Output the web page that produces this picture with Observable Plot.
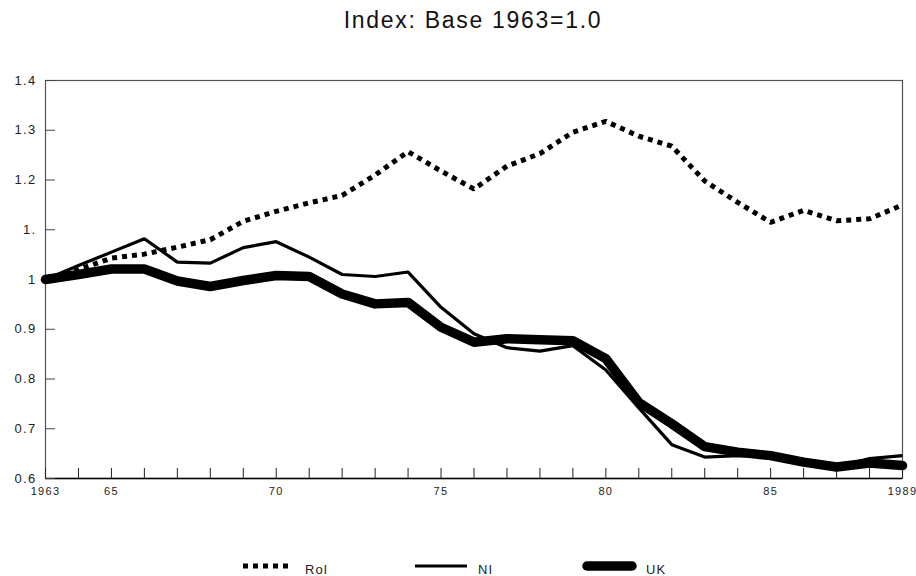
<!DOCTYPE html>
<html>
<head>
<meta charset="utf-8">
<script src="https://cdn.jsdelivr.net/npm/d3@7"></script>
<script src="https://cdn.jsdelivr.net/npm/@observablehq/plot@0.6"></script>
<style>
  html, body { margin: 0; padding: 0; background: #fff; }
  #wrap { position: relative; width: 916px; height: 576px; font-family: "Liberation Sans", Arial, sans-serif; color: #000; }
  #title { position: absolute; left: 0; width: 946px; top: 7px; text-align: center; font-size: 23px; letter-spacing: 1.7px; color: #111; }
  #chart { position: absolute; left: 0; top: 50px; }
  .lg { position: absolute; top: 556px; height: 20px; display: flex; align-items: center; font-size: 13px; letter-spacing: 1px; color: #222; }
  .lg svg { display: block; }
  .lg span { position: relative; top: 3px; }
</style>
</head>
<body>
<div id="wrap">
  <div id="title">Index: Base 1963=1.0</div>
  <div id="chart"></div>
  <div id="legend"></div>
</div>
<script>
const years = [1963,1964,1965,1966,1967,1968,1969,1970,1971,1972,1973,1974,1975,1976,1977,1978,1979,1980,1981,1982,1983,1984,1985,1986,1987,1988,1989];
const roi = [1.000,1.020,1.043,1.051,1.065,1.080,1.117,1.137,1.154,1.169,1.210,1.257,1.218,1.182,1.228,1.253,1.296,1.318,1.288,1.268,1.198,1.155,1.115,1.139,1.118,1.122,1.150];
const ni  = [1.000,1.028,1.055,1.082,1.035,1.033,1.064,1.076,1.045,1.010,1.006,1.015,0.944,0.891,0.863,0.856,0.867,0.818,0.742,0.668,0.643,0.646,0.644,0.633,0.623,0.640,0.646];
const uk  = [1.000,1.010,1.021,1.021,0.997,0.986,0.998,1.008,1.006,0.971,0.951,0.954,0.904,0.874,0.881,0.879,0.877,0.841,0.753,0.710,0.664,0.653,0.646,0.633,0.623,0.631,0.626];
const seriesNames = ["RoI", "NI", "UK"];
const yTicks = [0.6,0.7,0.8,0.9,1.0,1.1,1.2,1.3,1.4];
const yTickLabels = ["0.6","0.7","0.8","0.9","1","1.","1.2","1.3","1.4"];
const xLabelYears = [1963,1965,1970,1975,1980,1985,1989];
const xLabels = ["1963","65","70","75","80","85","1989"];

const styles = {
  RoI: {strokeWidth: 5, strokeDasharray: "5,5", strokeLinecap: "butt", strokeLinejoin: "miter"},
  NI:  {strokeWidth: 3.2, strokeLinecap: "butt", strokeLinejoin: "miter"},
  UK:  {strokeWidth: 9.5, strokeLinecap: "round", strokeLinejoin: "round"}
};
const seriesData = {RoI: roi, NI: ni, UK: uk};
const rows = name => years.map((yr, i) => ({year: yr, value: seriesData[name][i]}));

const chart = Plot.plot({
  width: 916,
  height: 460,
  marginTop: 30,
  marginBottom: 32,
  marginLeft: 45,
  marginRight: 14,
  style: {fontFamily: '"Liberation Sans", Arial, sans-serif', background: "#fff", color: "#000", letterSpacing: "1.3px"},
  x: {domain: [1963, 1989], label: null},
  y: {domain: [0.6, 1.4], label: null},
  marks: [
    Plot.frame({stroke: "#555", strokeWidth: 1.2}),
    Plot.ruleY([0.6], {stroke: "#000", strokeWidth: 1.5}),
    Plot.axisY({ticks: yTicks, tickSize: -10, tickFormat: () => "", stroke: "#444", label: null}),
    Plot.axisY({ticks: yTicks, tickSize: 0, tickPadding: 9, fontSize: 13, fill: "#222", label: null,
      tickFormat: v => yTickLabels[yTicks.findIndex(t => Math.abs(t - v) < 1e-9)]}),
    Plot.axisX({ticks: years, tickSize: -10, tickFormat: () => "", stroke: "#222", label: null}),
    Plot.axisX({ticks: xLabelYears, tickSize: 0, tickPadding: 9, fontSize: 11, fill: "#222", label: null,
      tickFormat: v => xLabels[xLabelYears.indexOf(v)]}),
    Plot.lineY(rows("UK"), {x: "year", y: "value", stroke: "#000", ...styles.UK}),
    Plot.lineY(rows("NI"), {x: "year", y: "value", stroke: "#000", ...styles.NI}),
    Plot.lineY(rows("RoI"), {x: "year", y: "value", stroke: "#000", ...styles.RoI})
  ]
});
document.getElementById("chart").appendChild(chart);

// legend
const legendPos = {RoI: 243, NI: 415, UK: 582};
const swatchW = {RoI: 46, NI: 52, UK: 55};
const textGap = {RoI: 16, NI: 11, UK: 9};
const legend = document.getElementById("legend");
for (const name of seriesNames) {
  const s = styles[name];
  const item = document.createElement("div");
  item.className = "lg";
  item.style.left = legendPos[name] + "px";
  const w = swatchW[name];
  const pad = name === "UK" ? 5 : 0;
  const dash = s.strokeDasharray ? `stroke-dasharray="${s.strokeDasharray}"` : "";
  item.innerHTML = `<svg width="${w}" height="14"><line x1="${pad}" x2="${w - pad}" y1="7" y2="7" stroke="#000" stroke-width="${s.strokeWidth}" stroke-linecap="${s.strokeLinecap}" ${dash}/></svg><span style="margin-left:${textGap[name]}px">${name}</span>`;
  legend.appendChild(item);
}
</script>
</body>
</html>
